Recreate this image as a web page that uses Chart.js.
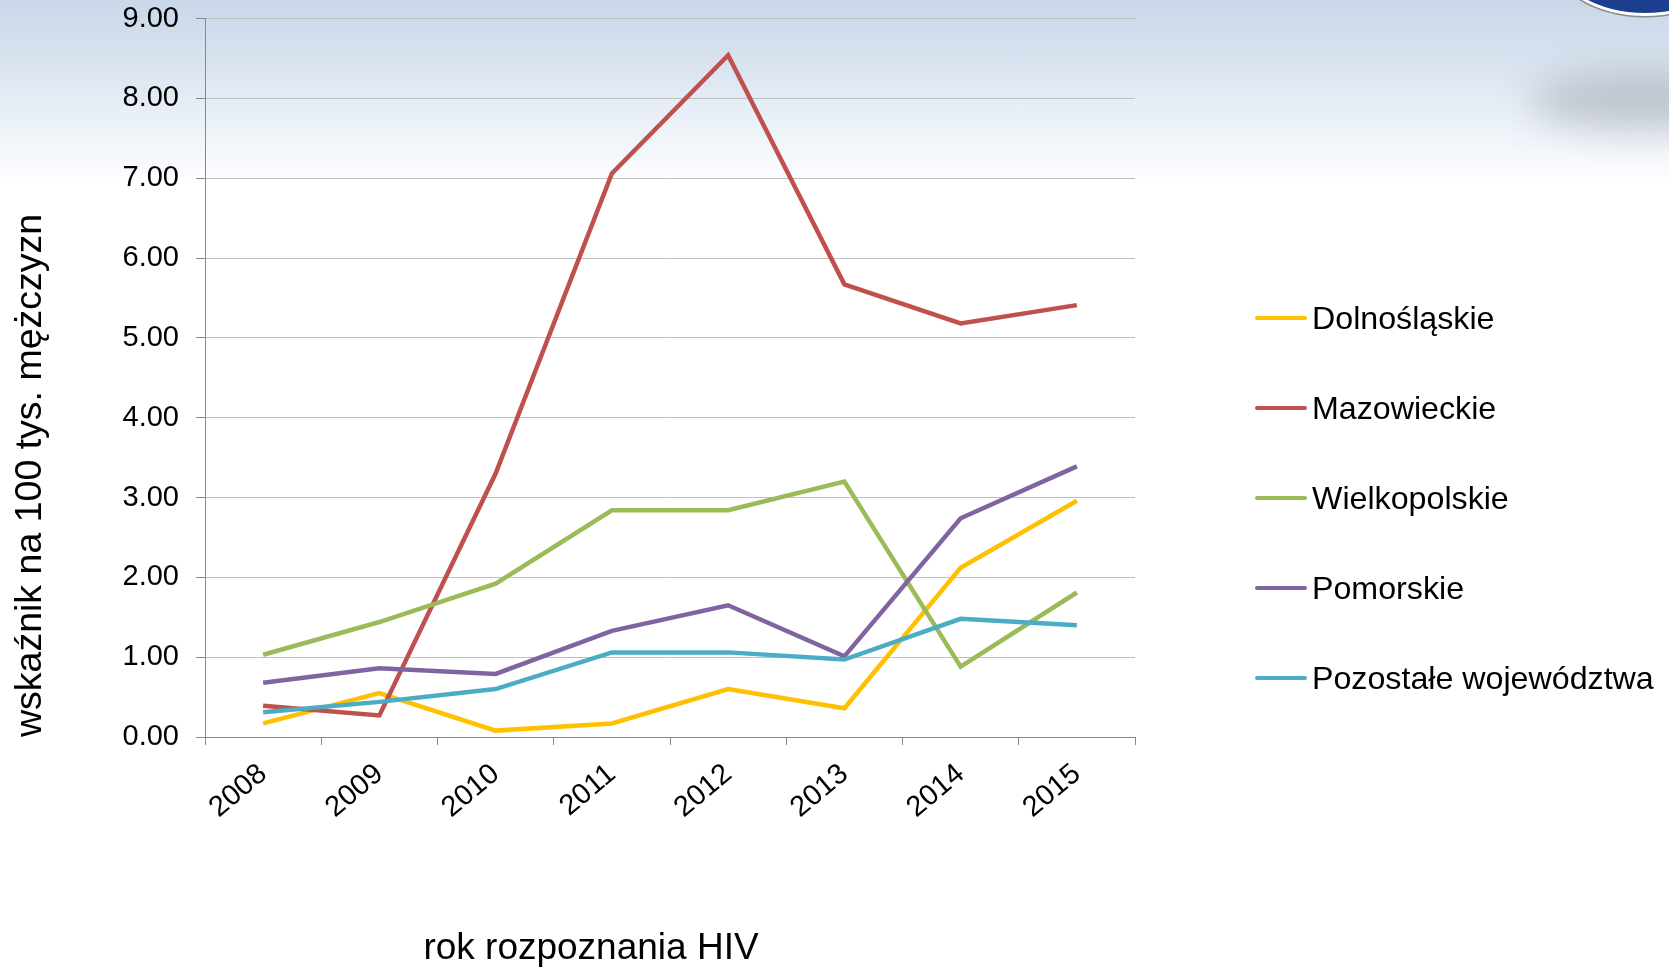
<!DOCTYPE html>
<html lang="pl">
<head>
<meta charset="utf-8">
<title>wskaźnik na 100 tys. mężczyzn</title>
<script src="https://cdn.jsdelivr.net/npm/chart.js@4.4.1/dist/chart.umd.min.js"></script>
<style>
  html, body { margin: 0; padding: 0; }
  body {
    width: 1669px; height: 971px; overflow: hidden; position: relative;
    font-family: "Liberation Sans", Arial, sans-serif;
    background: linear-gradient(to bottom, #c9d7e9 0px, #dbe5f1 70px, #eef3f9 130px, #fbfcfe 175px, #ffffff 178px);
  }
  #wrap { position: absolute; left: 0; top: 0; width: 1669px; height: 971px; }
  #blur {
    position: absolute; left: 1530px; top: 70px; width: 220px; height: 60px;
    border-radius: 50%; background: rgba(160, 165, 175, 0.55); filter: blur(18px);
  }
  #logo {
    position: absolute; left: 1555px; top: -96px; width: 180px; height: 112px;
    border-radius: 50%; background: #1b3f8e; border: 3px solid #ffffff;
    box-shadow: 0 0 0 1.5px #8a8a8a; box-sizing: border-box;
  }
  #legend { position: absolute; left: 1255px; top: 298px; }
  .item { display: flex; align-items: center; height: 40px; margin-bottom: 50px; }
  .item span.line { display: inline-block; width: 52px; height: 4px; border-radius: 2px; margin-right: 5px; }
  .item span.txt { font-size: 32.2px; color: #000; white-space: nowrap; }
  #xtitle {
    position: absolute; left: 591px; top: 925px; transform: translateX(-50%);
    font-size: 37px; line-height: 44px; color: #000; white-space: nowrap;
  }
</style>
</head>
<body>
<div id="blur"></div>
<div id="logo"></div>
<div id="wrap"><canvas id="chart"></canvas></div>
<div id="legend"></div>
<div id="xtitle">rok rozpoznania HIV</div>
<script>
// Years on the x axis
const years = ["2008", "2009", "2010", "2011", "2012", "2013", "2014", "2015"];

// Series values (wskaźnik na 100 tys. mężczyzn)
const dolnoslaskie = [0.17, 0.55, 0.08, 0.17, 0.60, 0.36, 2.12, 2.96];
const mazowieckie = [0.39, 0.27, 3.30, 7.06, 8.54, 5.67, 5.18, 5.41];
const wielkopolskie = [1.03, 1.44, 1.92, 2.84, 2.84, 3.20, 0.88, 1.81];
const pomorskie = [0.68, 0.86, 0.79, 1.33, 1.65, 1.01, 2.74, 3.39];
const pozostale = [0.31, 0.44, 0.60, 1.06, 1.06, 0.97, 1.48, 1.40];

const seriesNames = ["Dolnośląskie", "Mazowieckie", "Wielkopolskie", "Pomorskie", "Pozostałe województwa"];
const seriesData = [dolnoslaskie, mazowieckie, wielkopolskie, pomorskie, pozostale];
const seriesColors = ["#FFC000", "#C0504D", "#9BBB59", "#8064A2", "#4BACC6"];

const yTitle = "wskaźnik na 100 tys. mężczyzn";

const font = "'Liberation Sans', Arial, sans-serif";

// Build datasets, later series drawn on top (like Excel)
const datasets = seriesNames.map((name, i) => ({
  label: name,
  data: seriesData[i],
  borderColor: seriesColors[i],
  backgroundColor: seriesColors[i],
  borderWidth: 4.5,
  pointRadius: 0,
  tension: 0,
  fill: false,
  order: seriesNames.length - i,
}));

const chart = new Chart(document.getElementById("chart"), {
  type: "line",
  data: { labels: years, datasets: datasets },
  options: {
    responsive: true,
    maintainAspectRatio: false,
    animation: false,
    layout: { padding: { left: 0, right: 534, top: 18.5, bottom: 0 } },
    plugins: {
      legend: { display: false },
      tooltip: { enabled: false },
    },
    scales: {
      x: {
        offset: true,
        grid: { offset: true, drawOnChartArea: false, drawTicks: true, tickLength: 8, color: "#888888" },
        border: { color: "#888888", width: 1 },
        ticks: {
          minRotation: 40, maxRotation: 40, padding: 12,
          color: "#000", font: { family: font, size: 29 },
        },
        afterFit: (scale) => {
          scale.height = 234;
          scale.paddingLeft = 0;
          scale.paddingRight = 0;
        },
      },
      y: {
        min: 0,
        max: 9,
        grid: { color: "#c0c0c0", tickLength: 9, tickColor: "#888888" },
        border: { color: "#888888", width: 1 },
        ticks: {
          stepSize: 1, padding: 17,
          color: "#000", font: { family: font, size: 29 },
          callback: (v) => Number(v).toFixed(2),
        },
        title: {
          display: true, text: yTitle, align: "start",
          color: "#000", font: { family: font, size: 37.5 },
          padding: { top: 8, bottom: 0 },
        },
        afterFit: (scale) => {
          scale.width = 205;
          scale.paddingTop = 0;
          scale.paddingBottom = 0;
        },
      },
    },
  },
});

// Legend on the right
const legendElem = document.getElementById("legend");
seriesNames.forEach((name, i) => {
  const row = document.createElement("div");
  row.className = "item";
  const line = document.createElement("span");
  line.className = "line";
  line.style.background = seriesColors[i];
  const txt = document.createElement("span");
  txt.className = "txt";
  txt.textContent = name;
  row.appendChild(line);
  row.appendChild(txt);
  legendElem.appendChild(row);
});
</script>
</body>
</html>
